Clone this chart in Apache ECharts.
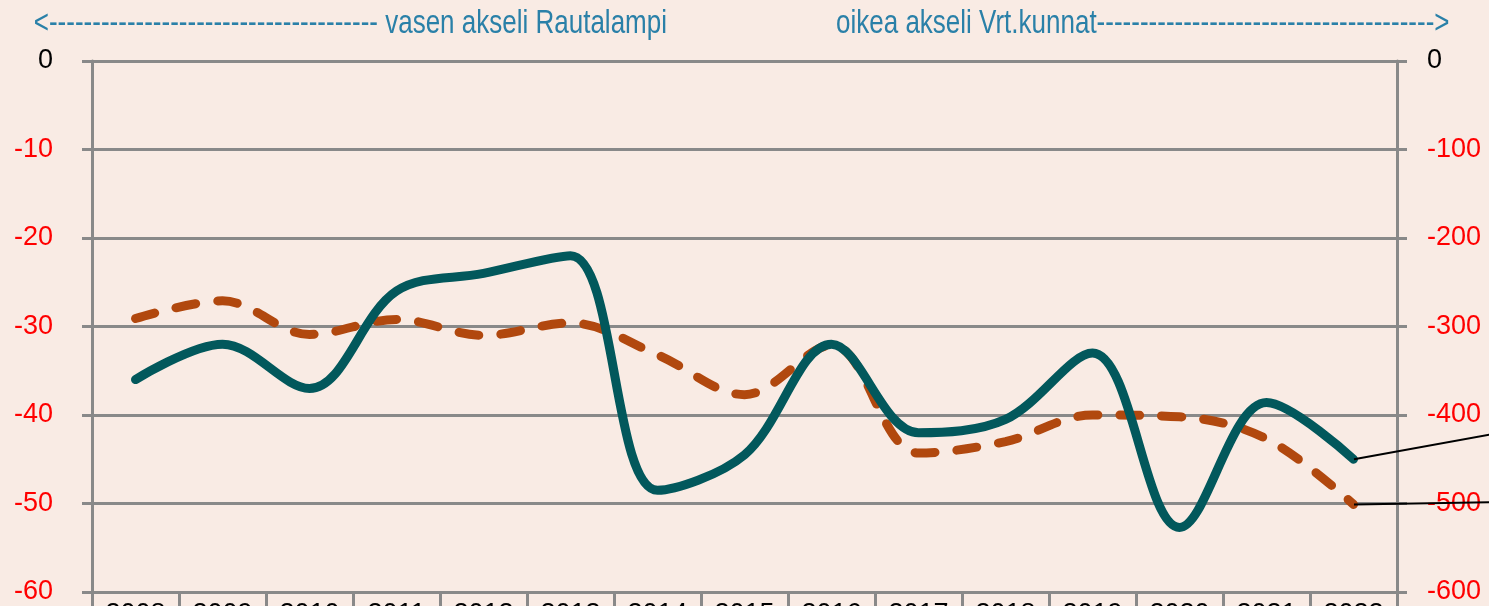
<!DOCTYPE html>
<html>
<head>
<meta charset="utf-8">
<script src="https://cdn.jsdelivr.net/npm/echarts@6/dist/echarts.min.js"></script>
<style>
html,body{margin:0;padding:0;background:#F9EBE4;}
#c{width:1489px;height:606px;}
</style>
</head>
<body>
<div id="c"></div>
<script>
const years = ['2008','2009','2010','2011','2012','2013','2014','2015','2016','2017','2018','2019','2020','2021','2022'];
const rautalampi = [-36, -32, -37, -26, -24, -22, -48.5, -44.5, -32, -42, -40.5, -33, -52.7, -38.6, -45];
const vrtKunnat = [-291, -271, -309, -292, -310, -296, -332, -377, -321, -443, -430, -400, -402, -427, -501];
const leftTicks = {min: -60, max: 0, interval: 10};
const rightTicks = {min: -600, max: 0, interval: 100};
const leftTitle = '<' + '-'.repeat(38) + ' vasen akseli Rautalampi';
const rightTitle = 'oikea akseli Vrt.kunnat' + '-'.repeat(39) + '>';

const GREY = '#898989';
const FONT = "'Liberation Sans', Arial, sans-serif";
const labelColor = v => (Number(v) === 0 ? '#000000' : '#FF0000');
const lastIdx = years.length - 1;

function endLabelLayout(targetY) {
  return function (p) {
    if (p.dataIndex !== lastIdx) return {};
    return {x: 1560, y: targetY, align: 'left', verticalAlign: 'middle'};
  };
}
function withEndLabel(arr) {
  return arr.map((v, i) => i === lastIdx
    ? {value: v, label: {show: true}, labelLine: {show: true}}
    : v);
}

const chart = echarts.init(document.getElementById('c'), null, {renderer: 'canvas'});
chart.setOption({
  backgroundColor: '#F9EBE4',
  animation: false,
  graphic: [
    {type: 'text', x: 667, y: 24, scaleY: 1.25, style: {text: leftTitle, fill: '#2A80A8', font: "26px " + FONT, textAlign: 'right', textVerticalAlign: 'middle'}},
    {type: 'text', x: 836, y: 24, scaleY: 1.25, style: {text: rightTitle, fill: '#2A80A8', font: "26px " + FONT, textAlign: 'left', textVerticalAlign: 'middle'}}
  ],
  grid: {left: 92, right: 92, top: 61, bottom: 14, containLabel: false, outerBoundsMode: 'none'},
  xAxis: {
    type: 'category',
    data: years,
    boundaryGap: true,
    position: 'bottom',
    axisLine: {show: true, onZero: false, lineStyle: {color: GREY, width: 3}},
    axisTick: {show: true, alignWithLabel: false, length: 16, lineStyle: {color: GREY, width: 3}},
    axisLabel: {color: '#000', fontSize: 27, fontFamily: FONT, margin: 9, interval: 0},
    splitLine: {show: false}
  },
  yAxis: [
    {
      type: 'value', min: leftTicks.min, max: leftTicks.max, interval: leftTicks.interval,
      position: 'left',
      axisLine: {show: true, lineStyle: {color: GREY, width: 3}},
      axisTick: {show: true, inside: false, length: 10, lineStyle: {color: GREY, width: 3}},
      axisLabel: {color: labelColor, fontSize: 27, fontFamily: FONT, margin: 39},
      splitLine: {show: true, lineStyle: {color: GREY, width: 3}}
    },
    {
      type: 'value', min: rightTicks.min, max: rightTicks.max, interval: rightTicks.interval,
      position: 'right',
      axisLine: {show: true, lineStyle: {color: GREY, width: 3}},
      axisTick: {show: true, inside: false, length: 10, lineStyle: {color: GREY, width: 3}},
      axisLabel: {color: labelColor, fontSize: 27, fontFamily: FONT, margin: 30},
      splitLine: {show: false}
    }
  ],
  series: [
    {
      name: 'Vrt.kunnat',
      type: 'line',
      yAxisIndex: 1,
      data: withEndLabel(vrtKunnat),
      smooth: 0.35,
      symbol: 'circle', symbolSize: 1, showSymbol: true,
      itemStyle: {color: '#B1480E', opacity: 0},
      label: {show: false, formatter: '{c}', color: '#000', fontSize: 20, fontFamily: FONT},
      labelLine: {show: false, lineStyle: {color: '#000', width: 2, opacity: 1}},
      labelLayout: endLabelLayout(501),
      lineStyle: {color: '#B1480E', width: 9, type: [20, 22], cap: 'round'},
      z: 2
    },
    {
      name: 'Rautalampi',
      type: 'line',
      yAxisIndex: 0,
      data: withEndLabel(rautalampi),
      smooth: 0.35,
      symbol: 'circle', symbolSize: 1, showSymbol: true,
      itemStyle: {color: '#02585C', opacity: 0},
      label: {show: false, formatter: '{c}', color: '#000', fontSize: 20, fontFamily: FONT},
      labelLine: {show: false, lineStyle: {color: '#000', width: 2, opacity: 1}},
      labelLayout: endLabelLayout(422),
      lineStyle: {color: '#02585C', width: 9, cap: 'round'},
      z: 3
    }
  ]
});
</script>
</body>
</html>
